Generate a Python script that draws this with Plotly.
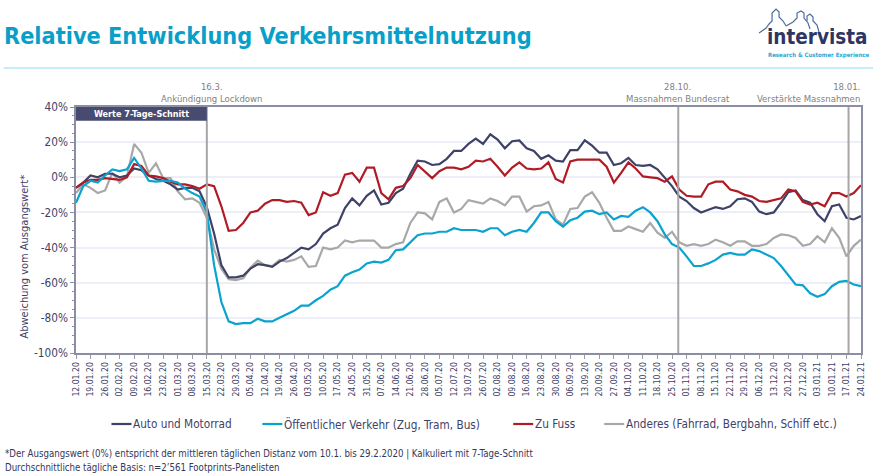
import pandas as pd
import plotly.graph_objs as go

# half-week samples, 12.01.20 to 24.01.21
dates = pd.date_range("2020-01-12", "2021-01-24", freq="84h")
week_ticks = pd.date_range("2020-01-12", "2021-01-24", freq="7D")

auto = [-6, -3, 1, 0, 2, 2, 0, 1, 5, 4,
        1, -1, -2, -4, -7, -6, -6, -8, -17, -32,
        -50, -57, -57, -56, -52, -49.5, -50, -51, -48, -46,
        -43, -40, -41, -38, -32, -29, -27, -17.5, -12, -16,
        -10.5, -7.5, -15.5, -14.5, -9, -6.5, 2, 9.5, 9, 7,
        7.5, 10.5, 15, 15, 19, 22, 19, 24.5, 21.5, 16.5,
        20.5, 21, 16.5, 15, 10.5, 12.5, 9.5, 9, 15.5, 15.5,
        21, 18, 14, 14, 7, 8, 11, 7, 6.5, 7,
        4.5, -0.5, -5, -11, -13.5, -17.5, -20, -18.5, -17, -18,
        -16.5, -12.5, -12, -14, -19.5, -21, -20, -14.5, -8.5, -7.5,
        -13, -14.5, -21, -25, -16.5, -15.5, -23, -24, -22]

oev = [-14.5, -5, -2, -3, 1, 4.5, 3.5, 4.5, 11, 5,
       -2, -2.5, -2, -2, -3, -6.5, -9, -11, -20, -50,
       -71, -82, -83.5, -83, -83, -80.5, -82, -82, -80, -78,
       -76, -73, -73, -70, -67.5, -64, -62, -56, -54, -52.5,
       -49, -48, -48.5, -47, -41.5, -41, -37, -33, -32, -32,
       -31, -31, -29, -30, -30, -30, -31, -29, -29, -33,
       -31, -30, -31, -26, -20, -20, -25, -28, -24.5, -23,
       -19.5, -19, -21, -20, -24, -22, -22.5, -19, -17, -20,
       -25, -32.5, -38, -40, -45, -50.5, -50.5, -49, -47, -44,
       -43, -44, -44, -41, -42, -44, -46, -50.5, -56, -61,
       -61.5, -66, -68, -66.5, -62, -59.5, -59, -61, -62]

zu_fuss = [-6, -3, -1.5, -1.5, -0.5, -1, -1.5, 0, 7.5, 6.5,
           1, 0.5, -0.5, -2.5, -4, -4, -5, -6.5, -4, -5,
           -16.5, -30.5, -30, -26, -20, -19, -15, -13, -13, -14,
           -13.5, -14.5, -21.5, -20, -8.5, -10.5, -9, 1.5, 2.5, -2.5,
           5.5, 5.5, -9, -12.5, -6, -5, -0.5, 7, 3.5, -0.5,
           3.5, 5.5, 5.5, 4.5, 6, 9.5, 9, 10.5, 6, 1,
           5.5, 8.5, 5, 4.5, 5, 8.5, -1, -3, 9, 10,
           10, 10, 10, 6, -3, 2.5, 8.5, 5, 0.5, 0,
           -0.5, -2.5, 0.5, -7, -10.5, -11, -11, -4, -2.5, -2.5,
           -7, -8, -10, -11, -13.5, -14, -13, -12, -7, -8,
           -14, -15.5, -14.5, -16.5, -9, -9, -11, -9, -4.5]

anderes = [-9, -4, -6, -9, -7.5, 2.5, -3, 0.5, 19, 14,
           2.5, 8, -0.5, -0.5, -8, -12.5, -12, -14.5, -23, -41,
           -52, -58, -58.5, -57.5, -51.5, -47.5, -50, -50.5, -47, -48,
           -47, -45, -51, -50.5, -40, -41, -40, -36, -37, -36,
           -36, -36, -40, -40, -38, -37, -26, -20, -20.5, -24,
           -14, -12, -20, -18, -13, -14, -15, -12, -13.5, -16,
           -11, -11, -19.5, -16.5, -16, -14, -24, -27, -18, -17.5,
           -11, -8.5, -14.5, -23, -30.5, -30.5, -28, -29.5, -31, -26,
           -31.5, -34.5, -31, -37, -39, -38, -39, -38, -35.5, -37,
           -39, -36.5, -36.5, -39, -39, -38, -34.5, -32.5, -33, -34.5,
           -39, -38, -33.5, -37, -29, -34.5, -45, -39, -35.5]

series_names = ["Auto und Motorrad", "Öffentlicher Verkehr (Zug, Tram, Bus)", "Zu Fuss",
                "Anderes (Fahrrad, Bergbahn, Schiff etc.)"]
series_values = [auto, oev, zu_fuss, anderes]
series_colors = ["#3f4268", "#0aa3cf", "#b01c26", "#a8a8a8"]
key_left = [111, 262, 513, 604]
draw_order = [3, 0, 2, 1]

event_dates = ["2020-03-15", "2020-10-28", "2021-01-18"]
event_labels = ["16.3.<br>Ankündigung Lockdown", "28.10.<br>Massnahmen Bundesrat", "18.01.<br>Verstärkte Massnahmen"]

FONT = "DejaVu Sans Condensed, DejaVu Sans"
NAVY = "#3f4268"
W, H = 873, 475
L, R, T, B = 75.5, 12, 107, 122
plot_w = W - L - R
plot_h = H - T - B


def px_x(x):
    return (x - L) / plot_w


def px_y(y):
    return 1 - (y - T) / plot_h


def px_path(points):
    # logo outlines are given in page pixels
    return "M" + " L".join(f"{px_x(x)},{px_y(y)}" for x, y in points)


def add_text(x, y, text, size, color, xanchor="left", yanchor="middle", align="left", angle=0, family=FONT):
    fig.add_annotation(x=px_x(x), y=px_y(y), xref="paper", yref="paper", text=text, showarrow=False,
                       xanchor=xanchor, yanchor=yanchor, align=align, textangle=angle,
                       borderpad=0, font=dict(size=size, color=color, family=family))


fig = go.Figure()

for i in draw_order:
    fig.add_trace(go.Scatter(x=dates, y=series_values[i], mode="lines", name=series_names[i],
                             line=dict(color=series_colors[i], width=2.2)))

fig.update_xaxes(range=["2020-01-12", "2021-01-24"],
                 automargin=False,
                 tickvals=week_ticks,
                 tickformat="%d.%m.%y",
                 tickangle=-90,
                 tickfont=dict(size=8.6, color=NAVY, family=FONT),
                 ticks="outside",
                 ticklen=4,
                 tickcolor="#9a9aa6",
                 showgrid=False,
                 showline=True,
                 linecolor="#8c8ea4",
                 linewidth=1.5,
                 mirror=True)
fig.update_yaxes(range=[-100, 40],
                 automargin=False,
                 tickvals=[40, 20, 0, -20, -40, -60, -80, -100],
                 ticktext=["40%", "20%", "0%", "-20%", "-40%", "-60%", "-80%", "-100%"],
                 tickfont=dict(size=11.7, color=NAVY, family=FONT),
                 ticks="outside",
                 ticklen=4,
                 tickcolor="#8c8ea4",
                 minor=dict(dtick=5, ticks="outside", ticklen=2, tickcolor="#8c8ea4", showgrid=False),
                 gridcolor="#eeeef6",
                 gridwidth=2,
                 zeroline=False,
                 showline=True,
                 linecolor="#8c8ea4",
                 linewidth=1.5,
                 mirror=True)

# event lines and their labels
for day in event_dates:
    fig.add_shape(type="line", x0=day, x1=day, y0=-100, y1=40, line=dict(color="#a6a6a6", width=2))
add_text(212, 105, event_labels[0], 9.5, "#7f7f7f", xanchor="center", yanchor="bottom", align="center")
add_text(678, 105, event_labels[1], 9.5, "#7f7f7f", xanchor="center", yanchor="bottom", align="center")
add_text(861, 105, event_labels[2], 9.5, "#7f7f7f", xanchor="right", yanchor="bottom", align="right")

# box in the top left of the plot
fig.add_shape(type="rect", x0="2020-01-12", x1="2020-03-15", y0=32.2, y1=40, line=dict(width=0), fillcolor="#474b70")
add_text(141, 114, "<b>Werte 7-Tage-Schnitt</b>", 9, "white", xanchor="center")

add_text(23, 257, "Abweichung vom Ausgangswert*", 11, NAVY, xanchor="center", angle=-90)

# legend row, one key line and one label per series
for i in range(4):
    fig.add_shape(type="line", xref="paper", yref="paper", x0=px_x(key_left[i]), x1=px_x(key_left[i] + 20),
                  y0=px_y(424), y1=px_y(424), line=dict(color=series_colors[i], width=2.2))
    add_text(key_left[i] + 21, 424, series_names[i], 11.7, NAVY)

# footnote
add_text(3, 454, "*Der Ausgangswert (0%) entspricht der mittleren täglichen Distanz vom 10.1. bis 29.2.2020 | Kalkuliert mit 7-Tage-Schnitt",
         9.6, "#33365a")
add_text(3, 467, "Durchschnittliche tägliche Basis: n=2’561 Footprints-Panelisten", 9.6, "#33365a")

# header rule and logo
fig.add_shape(type="line", xref="paper", yref="paper", x0=px_x(3), x1=px_x(873), y0=px_y(68), y1=px_y(68),
              line=dict(color="#8adcec", width=1))
add_text(817, 37, "<b>intervista</b>", 20.5, "#2f3563", xanchor="center", family=FONT)
add_text(818.5, 55, "<b>Research &amp; Customer Experience</b>", 6, "#2aa9d6", xanchor="center")
logo_people = [
    [(759, 33), (766, 28), (769, 24), (772, 21), (772, 13), (776, 9), (779, 12), (779, 17), (783, 21), (786, 26)],
    [(786, 26), (793, 22), (797, 18), (797, 13), (801, 11), (804, 13), (804, 18), (808, 23), (810, 29)],
    [(807, 21), (807, 16), (810, 14), (813, 17), (813, 21), (817, 25), (819, 32)],
]
for person in logo_people:
    fig.add_shape(type="path", xref="paper", yref="paper", path=px_path(person), line=dict(color="#4d6c9c", width=1.2))

fig.update_layout(title=dict(text="<b>Relative Entwicklung Verkehrsmittelnutzung</b>", x=4 / W, xanchor="left",
                             y=1 - 36 / H, yanchor="middle",
                             font=dict(size=23.3, color="#0a9fc9", family=FONT)),
                  width=W,
                  height=H,
                  autosize=False,
                  margin=dict(l=L, r=R, t=T, b=B, pad=0),
                  plot_bgcolor="white",
                  paper_bgcolor="white",
                  showlegend=False)

fig.write_html("out.html", config=dict(displayModeBar=False),
               post_script="document.body.style.margin='0';document.body.style.overflow='hidden';")
